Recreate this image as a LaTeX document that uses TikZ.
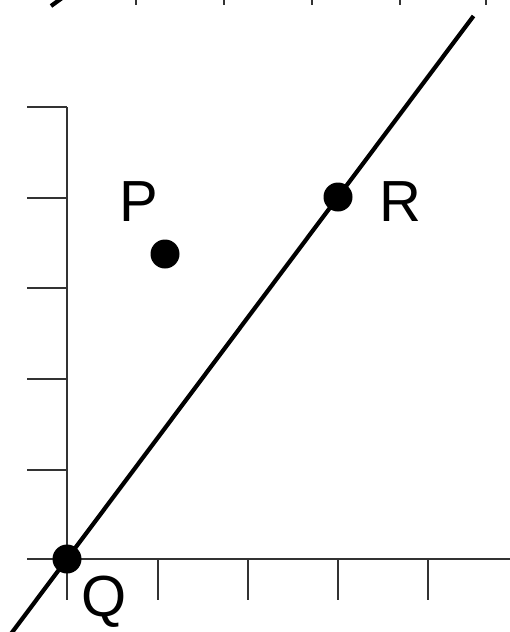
\documentclass[tikz,border=0pt]{standalone}
\usepackage{fontspec}
\setmainfont{Liberation Sans}
\usetikzlibrary{calc}
\begin{document}
\begin{tikzpicture}[x=1pt,y=-1pt,
  axis/.style={draw=black!80, line width=1.7pt},
  thick line/.style={draw=black, line width=4.2pt},
  pt/.style={circle, fill=black, inner sep=0pt, minimum size=29pt},
  lbl/.style={font=\fontsize{58}{60}\selectfont, inner sep=0pt}]
\useasboundingbox (0,0) rectangle (510,632);
\clip (0,0) rectangle (510,632);
% fragments at top edge
\foreach \x in {136,224,312,400,486} \draw[axis] (\x,-2) -- (\x,5);
\draw[thick line] (62,-2) -- (51,6);
% axes
\draw[axis] (67,107) -- (67,600);
\draw[axis] (27,559) -- (512,559);
\foreach \y in {107,198,288,379,470} \draw[axis] (27,\y) -- (67,\y);
\foreach \x in {158,248,338,428} \draw[axis] (\x,559) -- (\x,600);
% points
\node[pt] (Q) at (67,559) {};
\node[pt] (R) at (338,197) {};
\node[pt] (P) at (165,254) {};
\draw[thick line] ($(Q.center)!-0.3!(R.center)$) -- ($(Q.center)!1.5!(R.center)$);
% labels
\node[lbl] (Plbl) at (139,202) {P};
\node[lbl] (Rlbl) at (400,202) {R};
\node[lbl] (Qlbl) at (104,602) {Q};
\end{tikzpicture}
\end{document}
